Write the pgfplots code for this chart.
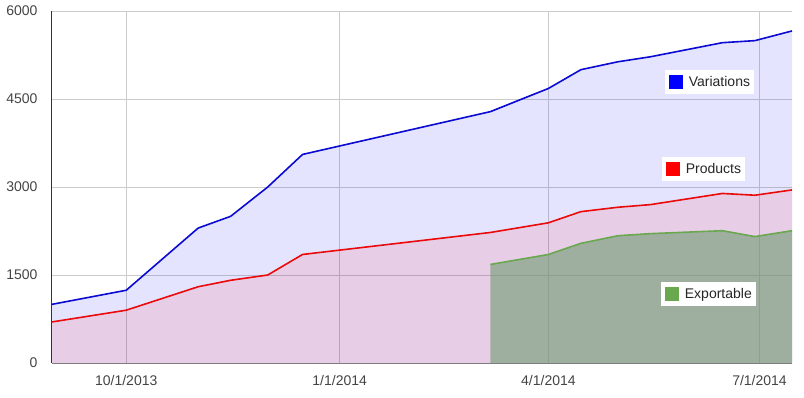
\documentclass[border=0pt]{standalone}
\usepackage{pgfplots}
\pgfplotsset{compat=1.18}
\usepackage{fontspec}
\setmainfont{Liberation Sans}
\definecolor{tickgray}{RGB}{68,68,68}
\definecolor{gridgray}{RGB}{204,204,204}
\definecolor{lineblue}{RGB}{10,10,210}
\definecolor{linered}{RGB}{235,10,10}
\definecolor{linegreen}{RGB}{106,168,79}
\definecolor{greenfill}{RGB}{113,156,113}
\definecolor{legblue}{RGB}{0,0,255}
\definecolor{legred}{RGB}{255,0,0}
\definecolor{leggreen}{RGB}{106,168,79}
\begin{document}
\begin{tikzpicture}
\useasboundingbox (-52pt,-34pt) rectangle (752pt,363pt);
\begin{axis}[
  at={(0pt,0pt)}, anchor=south west,
  scale only axis, width=740pt, height=352pt,
  xmin=-32, xmax=287, ymin=0, ymax=6000,
  xtick={0,92,182,273},
  xticklabels={10/1/2013,1/1/2014,4/1/2014,7/1/2014},
  ytick={0,1500,3000,4500,6000},
  /pgf/number format/1000 sep={},
  /pgf/number format/assume math mode=true,
  grid=major,
  grid style={draw=gridgray, line width=0.9pt},
  major tick length=0pt,
  axis x line*=bottom, axis y line*=left,
  axis line style={-},
  every outer x axis line/.append style={-},
  every outer y axis line/.append style={-},
  x axis line style={draw=black!50, line width=1pt},
  y axis line style={draw=black!80, line width=1pt},
  tick label style={font=\fontsize{14}{16}\selectfont, text=tickgray},
  xticklabel style={yshift=-9pt},
  yticklabel style={xshift=-11pt},
  clip=false,
]
% Variations
\addplot[draw=none, fill=blue, fill opacity=0.106] coordinates {
(-32,1000) (0,1240) (31,2300) (45,2500) (61,3000) (76,3555) (157,4285) (182,4680) (196,5000) (212,5135) (226,5220) (257,5460) (271,5495) (287,5660)
} \closedcycle;
% Products
\addplot[draw=none, fill=red, fill opacity=0.098] coordinates {
(-32,700) (0,900) (31,1300) (45,1410) (61,1500) (76,1850) (157,2225) (182,2390) (196,2580) (212,2655) (226,2700) (257,2890) (271,2860) (287,2950)
} \closedcycle;
% Exportable
\addplot[draw=none, fill=greenfill, fill opacity=0.6] coordinates {
(157,1680) (182,1850) (196,2040) (212,2170) (226,2205) (257,2255) (271,2155) (287,2255)
} \closedcycle;
\addplot[lineblue, line width=1.6pt, line join=round] coordinates {
(-32,1000) (0,1240) (31,2300) (45,2500) (61,3000) (76,3555) (157,4285) (182,4680) (196,5000) (212,5135) (226,5220) (257,5460) (271,5495) (287,5660)
};
\addplot[linered, line width=1.6pt, line join=round] coordinates {
(-32,700) (0,900) (31,1300) (45,1410) (61,1500) (76,1850) (157,2225) (182,2390) (196,2580) (212,2655) (226,2700) (257,2890) (271,2860) (287,2950)
};
\addplot[linegreen, line width=1.6pt, line join=round] coordinates {
(157,1680) (182,1850) (196,2040) (212,2170) (226,2205) (257,2255) (271,2155) (287,2255)
};
\node[fill=white, anchor=west, inner xsep=4pt, inner ysep=5pt, text=black!85, font=\fontsize{14}{16}\selectfont] at (axis cs:232.1,4790) {\textcolor{legblue}{\rule[-2pt]{14pt}{14pt}}\hspace{6pt}Variations};
\node[fill=white, anchor=west, inner xsep=4pt, inner ysep=5pt, text=black!85, font=\fontsize{14}{16}\selectfont] at (axis cs:230.8,3315) {\textcolor{legred}{\rule[-2pt]{14pt}{14pt}}\hspace{6pt}Products};
\node[fill=white, anchor=west, inner xsep=4pt, inner ysep=5pt, text=black!85, font=\fontsize{14}{16}\selectfont] at (axis cs:230.4,1176) {\textcolor{leggreen}{\rule[-2pt]{14pt}{14pt}}\hspace{6pt}Exportable};
\end{axis}
\end{tikzpicture}
\end{document}
